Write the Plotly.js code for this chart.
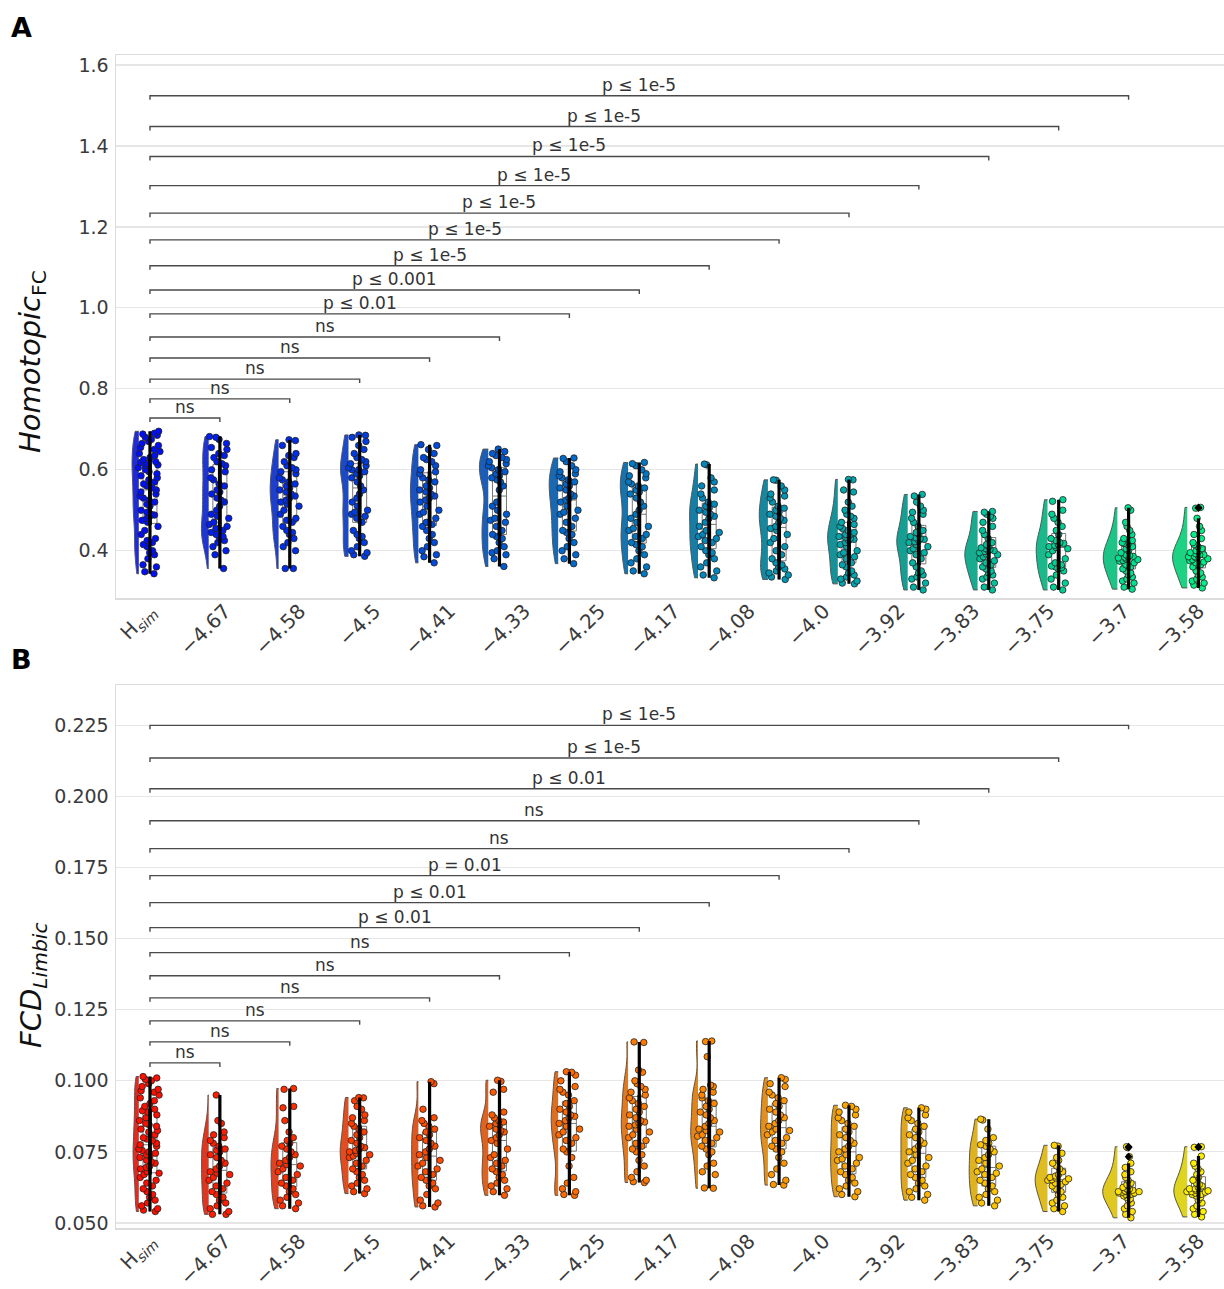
<!DOCTYPE html>
<html><head><meta charset="utf-8">
<script src="https://cdn.plot.ly/plotly-3.0.1.min.js"></script>
<style>body{margin:0;background:#fff}#chart{width:1224px;height:1289px}</style>
</head><body><div id="chart"></div>
<script>
// x tick labels (15 labels spread over the 16 groups, as in the original figure)
const tickLabels = ['H<sub><i>sim</i></sub>','\u22124.67','\u22124.58','\u22124.5','\u22124.41','\u22124.33','\u22124.25','\u22124.17','\u22124.08','\u22124.0','\u22123.92','\u22123.83','\u22123.75','\u22123.7','\u22123.58'];

// Panel A: Homotopic FC, one list per group (left to right)
const homotopicFC = [
 [0.695,0.69,0.688,0.685,0.68,0.675,0.67,0.665,0.66,0.655,0.65,0.645,0.64,0.635,0.63,0.625,0.62,0.618,0.615,0.612,0.61,0.605,0.6,0.595,0.59,0.585,0.58,0.575,0.57,0.565,0.56,0.555,0.55,0.545,0.54,0.535,0.53,0.525,0.52,0.515,0.51,0.5,0.495,0.49,0.488,0.485,0.48,0.475,0.47,0.46,0.45,0.44,0.43,0.425,0.42,0.415,0.41,0.4,0.395,0.39,0.38,0.365,0.36,0.348,0.343],
 [0.682,0.68,0.675,0.665,0.655,0.65,0.64,0.635,0.63,0.62,0.615,0.61,0.6,0.595,0.58,0.575,0.565,0.56,0.55,0.545,0.54,0.53,0.525,0.52,0.51,0.5,0.49,0.485,0.48,0.47,0.465,0.46,0.455,0.45,0.445,0.44,0.435,0.43,0.425,0.42,0.41,0.4,0.39,0.356],
 [0.674,0.672,0.66,0.64,0.635,0.63,0.62,0.61,0.605,0.6,0.595,0.59,0.58,0.575,0.57,0.565,0.56,0.555,0.55,0.545,0.54,0.535,0.53,0.525,0.52,0.515,0.51,0.5,0.49,0.48,0.475,0.47,0.46,0.45,0.445,0.44,0.43,0.42,0.41,0.4,0.356,0.356],
 [0.686,0.685,0.68,0.67,0.66,0.65,0.64,0.63,0.625,0.62,0.615,0.61,0.605,0.6,0.6,0.595,0.59,0.585,0.58,0.57,0.56,0.55,0.54,0.53,0.52,0.51,0.5,0.495,0.49,0.485,0.48,0.47,0.45,0.44,0.435,0.43,0.42,0.41,0.4,0.395,0.39,0.386],
 [0.662,0.66,0.65,0.64,0.63,0.625,0.62,0.61,0.6,0.595,0.59,0.58,0.575,0.57,0.56,0.555,0.55,0.545,0.54,0.535,0.53,0.525,0.52,0.51,0.5,0.495,0.49,0.48,0.47,0.465,0.46,0.45,0.44,0.43,0.42,0.41,0.4,0.39,0.385,0.37],
 [0.651,0.645,0.64,0.635,0.63,0.625,0.62,0.615,0.61,0.605,0.6,0.595,0.59,0.585,0.58,0.575,0.57,0.56,0.55,0.52,0.51,0.5,0.49,0.48,0.475,0.47,0.46,0.45,0.44,0.435,0.43,0.42,0.41,0.4,0.395,0.39,0.38,0.361],
 [0.629,0.628,0.62,0.61,0.6,0.595,0.59,0.585,0.58,0.575,0.57,0.565,0.56,0.555,0.55,0.54,0.535,0.53,0.525,0.52,0.51,0.5,0.495,0.49,0.48,0.47,0.46,0.45,0.445,0.44,0.43,0.42,0.41,0.4,0.39,0.38,0.368],
 [0.618,0.615,0.61,0.6,0.59,0.585,0.58,0.57,0.565,0.56,0.555,0.55,0.545,0.54,0.53,0.52,0.51,0.5,0.49,0.48,0.47,0.46,0.455,0.45,0.44,0.435,0.43,0.42,0.415,0.41,0.4,0.39,0.38,0.37,0.36,0.35,0.343],
 [0.614,0.612,0.58,0.57,0.56,0.55,0.54,0.53,0.52,0.515,0.51,0.505,0.5,0.495,0.49,0.485,0.48,0.47,0.46,0.45,0.445,0.44,0.435,0.43,0.425,0.42,0.41,0.4,0.395,0.39,0.38,0.37,0.36,0.35,0.34,0.333],
 [0.575,0.574,0.56,0.55,0.54,0.535,0.53,0.52,0.51,0.505,0.5,0.495,0.49,0.485,0.48,0.475,0.47,0.46,0.455,0.45,0.44,0.43,0.42,0.41,0.4,0.39,0.38,0.37,0.365,0.36,0.355,0.35,0.345,0.34,0.335,0.329],
 [0.576,0.575,0.55,0.545,0.52,0.51,0.5,0.49,0.485,0.48,0.47,0.465,0.46,0.455,0.45,0.445,0.44,0.437,0.435,0.433,0.43,0.428,0.425,0.42,0.415,0.41,0.4,0.395,0.39,0.385,0.38,0.37,0.365,0.36,0.35,0.345,0.34,0.335,0.33,0.325,0.32,0.318],
 [0.539,0.535,0.52,0.51,0.5,0.495,0.49,0.48,0.47,0.46,0.45,0.445,0.44,0.435,0.432,0.43,0.428,0.425,0.422,0.42,0.415,0.41,0.405,0.4,0.395,0.39,0.38,0.37,0.36,0.35,0.345,0.34,0.335,0.33,0.32,0.31,0.303],
 [0.497,0.495,0.49,0.485,0.48,0.47,0.46,0.45,0.44,0.43,0.42,0.415,0.41,0.407,0.405,0.403,0.4,0.4,0.398,0.395,0.392,0.39,0.385,0.38,0.375,0.37,0.365,0.36,0.355,0.35,0.345,0.34,0.335,0.33,0.32,0.31,0.303],
 [0.526,0.522,0.5,0.49,0.48,0.47,0.46,0.45,0.44,0.43,0.425,0.42,0.418,0.415,0.413,0.41,0.408,0.405,0.4,0.39,0.38,0.37,0.365,0.362,0.36,0.358,0.355,0.35,0.34,0.33,0.32,0.31,0.303],
 [0.506,0.5,0.47,0.46,0.45,0.44,0.43,0.425,0.42,0.418,0.415,0.41,0.405,0.4,0.395,0.39,0.388,0.386,0.385,0.384,0.382,0.38,0.378,0.376,0.374,0.37,0.365,0.36,0.355,0.35,0.345,0.34,0.335,0.33,0.325,0.32,0.31,0.305],
 [0.507,0.505,0.48,0.46,0.45,0.44,0.43,0.42,0.415,0.41,0.405,0.4,0.398,0.395,0.393,0.39,0.39,0.388,0.386,0.385,0.383,0.38,0.378,0.375,0.372,0.37,0.365,0.36,0.35,0.345,0.34,0.335,0.33,0.325,0.32,0.315,0.308]
];

// Panel B: FCD Limbic, one list per group (left to right)
const fcdLimbic = [
 [0.1015,0.101,0.1005,0.1,0.099,0.098,0.097,0.0965,0.096,0.095,0.094,0.093,0.092,0.091,0.09,0.0895,0.089,0.088,0.087,0.086,0.085,0.0845,0.084,0.083,0.0825,0.082,0.081,0.08,0.0795,0.079,0.078,0.0775,0.077,0.076,0.0755,0.075,0.0745,0.074,0.0735,0.073,0.072,0.0715,0.071,0.07,0.0695,0.069,0.068,0.0675,0.067,0.066,0.065,0.064,0.063,0.062,0.061,0.06,0.059,0.058,0.057,0.056,0.055,0.0545,0.054],
 [0.095,0.086,0.085,0.082,0.081,0.08,0.079,0.078,0.077,0.076,0.0755,0.075,0.074,0.073,0.072,0.071,0.07,0.069,0.068,0.0675,0.067,0.066,0.065,0.064,0.063,0.062,0.061,0.06,0.059,0.058,0.057,0.056,0.055,0.054,0.053,0.053],
 [0.0973,0.097,0.091,0.0905,0.086,0.082,0.08,0.079,0.078,0.077,0.076,0.075,0.074,0.073,0.072,0.071,0.0705,0.07,0.069,0.068,0.067,0.066,0.065,0.064,0.063,0.062,0.061,0.06,0.059,0.058,0.057,0.056,0.055],
 [0.0941,0.094,0.093,0.091,0.09,0.088,0.087,0.086,0.085,0.084,0.083,0.082,0.081,0.08,0.079,0.078,0.077,0.0765,0.076,0.0755,0.075,0.0745,0.074,0.0735,0.073,0.072,0.071,0.07,0.069,0.068,0.067,0.066,0.065,0.064,0.063,0.062,0.061,0.0603],
 [0.0997,0.099,0.09,0.087,0.086,0.085,0.084,0.083,0.082,0.081,0.08,0.079,0.078,0.077,0.076,0.075,0.074,0.073,0.072,0.071,0.07,0.069,0.068,0.067,0.066,0.065,0.064,0.063,0.062,0.06,0.058,0.057,0.056,0.0556],
 [0.1002,0.0998,0.097,0.096,0.089,0.088,0.087,0.086,0.0855,0.085,0.0845,0.084,0.083,0.0825,0.082,0.081,0.08,0.079,0.078,0.076,0.074,0.073,0.072,0.071,0.07,0.069,0.068,0.067,0.066,0.065,0.064,0.063,0.062,0.061,0.0597],
 [0.1032,0.103,0.102,0.1,0.098,0.097,0.096,0.095,0.093,0.092,0.091,0.09,0.089,0.088,0.0875,0.087,0.086,0.085,0.084,0.083,0.082,0.081,0.08,0.079,0.078,0.076,0.075,0.073,0.07,0.066,0.064,0.062,0.061,0.06,0.0597],
 [0.1137,0.1135,0.1038,0.103,0.1,0.099,0.098,0.097,0.096,0.095,0.094,0.093,0.092,0.091,0.09,0.089,0.088,0.087,0.086,0.0855,0.085,0.0845,0.084,0.083,0.082,0.081,0.08,0.079,0.078,0.077,0.076,0.075,0.074,0.072,0.07,0.068,0.066,0.065,0.0645,0.0642],
 [0.114,0.1138,0.1085,0.0985,0.098,0.097,0.096,0.095,0.094,0.093,0.092,0.091,0.09,0.089,0.088,0.087,0.086,0.085,0.084,0.083,0.0825,0.082,0.081,0.0805,0.08,0.079,0.078,0.077,0.076,0.075,0.074,0.071,0.07,0.068,0.067,0.0623,0.0622],
 [0.1011,0.1005,0.099,0.098,0.096,0.095,0.094,0.093,0.092,0.091,0.09,0.089,0.088,0.087,0.086,0.085,0.084,0.083,0.0825,0.082,0.081,0.08,0.079,0.078,0.077,0.076,0.075,0.073,0.071,0.069,0.067,0.065,0.0635,0.0633],
 [0.0914,0.091,0.09,0.089,0.088,0.087,0.086,0.085,0.084,0.083,0.082,0.081,0.08,0.079,0.078,0.077,0.076,0.075,0.074,0.073,0.0725,0.072,0.071,0.07,0.069,0.068,0.067,0.066,0.065,0.064,0.063,0.062,0.061,0.06,0.0592],
 [0.0905,0.09,0.089,0.088,0.087,0.086,0.085,0.084,0.083,0.082,0.081,0.08,0.079,0.078,0.077,0.076,0.075,0.074,0.073,0.072,0.071,0.07,0.069,0.068,0.067,0.066,0.065,0.064,0.063,0.062,0.061,0.06,0.059,0.058],
 [0.0865,0.0862,0.083,0.08,0.079,0.078,0.0775,0.077,0.076,0.075,0.074,0.073,0.072,0.071,0.07,0.069,0.068,0.0675,0.067,0.066,0.065,0.064,0.063,0.062,0.061,0.06,0.059,0.058,0.057,0.056],
 [0.0773,0.077,0.0745,0.073,0.072,0.071,0.07,0.069,0.068,0.067,0.0665,0.066,0.0658,0.0655,0.0652,0.065,0.0645,0.064,0.0635,0.063,0.062,0.061,0.06,0.059,0.058,0.057,0.056,0.055,0.054],
 [0.0768,0.0765,0.0733,0.071,0.0695,0.068,0.067,0.066,0.065,0.064,0.0635,0.063,0.0625,0.062,0.062,0.0615,0.0615,0.0612,0.061,0.061,0.061,0.0608,0.0605,0.0605,0.06,0.06,0.0595,0.059,0.0585,0.058,0.057,0.056,0.055,0.054,0.053,0.0518],
 [0.0768,0.0766,0.0735,0.071,0.07,0.069,0.068,0.067,0.066,0.065,0.064,0.0635,0.063,0.0625,0.062,0.062,0.0615,0.0613,0.061,0.061,0.0608,0.0605,0.06,0.06,0.0595,0.059,0.058,0.057,0.056,0.055,0.054,0.053,0.0521]
];

// significance brackets: group 0 vs group k (k = 1..14), bracket heights and labels
const bracketLevelsA = [0.728,0.775,0.824,0.876,0.928,0.985,1.044,1.104,1.168,1.234,1.302,1.374,1.448,1.524];
const bracketTextA = ['ns','ns','ns','ns','ns','p \u2264 0.01','p \u2264 0.001','p \u2264 1e-5','p \u2264 1e-5','p \u2264 1e-5','p \u2264 1e-5','p \u2264 1e-5','p \u2264 1e-5','p \u2264 1e-5'];
const bracketLevelsB = [0.1063,0.1137,0.1211,0.1292,0.1370,0.1451,0.1539,0.1627,0.1722,0.1817,0.1915,0.2028,0.2136,0.2251];
const bracketTextB = ['ns','ns','ns','ns','ns','ns','p \u2264 0.01','p \u2264 0.01','p = 0.01','ns','ns','p \u2264 0.01','p \u2264 1e-5','p \u2264 1e-5'];

// ---- styling helpers ----
const winter = t => [0, 255*t, 255*(1-0.5*t)];
const autumn = t => [255, 255*t, 0];
function desat(c, p){ // seaborn-like desaturation in HLS space
  const r=c[0]/255,g=c[1]/255,b=c[2]/255;
  const l=(Math.max(r,g,b)+Math.min(r,g,b))/2;
  return [r,g,b].map(v => 255*(l+(v-l)*p));
}
const css = c => 'rgb(' + c.map(v => Math.round(v)).join(',') + ')';
const FONT = 'DejaVu Sans, sans-serif';

const violins = [], greyBoxes = [], pts = [], blackLines = [], brackets = [], annos = [];

function panel(groups, xa, ya, cmap, sg, bw, levels, texts, tickDrop){
  const n = groups.length;
  groups.forEach((vals, i) => {
    const pc = cmap((i+1)/(n+1)), vc = desat(pc, 0.75);
    // no explicit width, so the shared scalegroup sizes the violins relative to each other
    violins.push({type:'violin', x0:i-0.16, y:vals, xaxis:xa, yaxis:ya, side:'negative',
      scalegroup:sg, scalemode:'width', spanmode:'hard', bandwidth:bw, fillcolor:css(vc),
      line:{color:'#555', width:1}, points:false, box:{visible:false}, meanline:{visible:false}, hoverinfo:'skip'});
    greyBoxes.push({type:'box', x0:i, y:vals, xaxis:xa, yaxis:ya, width:0.2, whiskerwidth:0,
      line:{color:'#777', width:1}, fillcolor:'rgba(0,0,0,0)', boxpoints:'outliers', marker:{opacity:0}, hoverinfo:'skip'});
    pts.push({type:'box', x0:i, y:vals, xaxis:xa, yaxis:ya, width:0.34, boxpoints:'all', jitter:1, pointpos:0,
      line:{color:'rgba(0,0,0,0)', width:0}, fillcolor:'rgba(0,0,0,0)',
      marker:{color:css(pc), size:6.5, line:{color:'#222', width:0.8}}, hoverinfo:'skip'});
    blackLines.push({type:'box', x0:i, y:vals, xaxis:xa, yaxis:ya, width:0.01, whiskerwidth:0,
      line:{color:'#000', width:3.2}, fillcolor:'#000', boxpoints:'outliers', jitter:0, pointpos:0,
      marker:{symbol:'diamond', color:'#000', size:6, line:{width:0}}, hoverinfo:'skip'});
  });
  levels.forEach((lv, j) => {
    const k = j + 1;
    brackets.push({type:'scatter', mode:'lines', x:[0,0,k,k], y:[lv-tickDrop, lv, lv, lv-tickDrop],
      xaxis:xa, yaxis:ya, line:{color:'#4a4a4a', width:1.4}, hoverinfo:'skip'});
    annos.push({xref:xa, yref:ya, x:k/2, y:lv, text:texts[j], showarrow:false, yanchor:'bottom', xanchor:'center',
      yshift:-1, font:{family:FONT, size:17, color:'#333'}});
  });
}
panel(homotopicFC, 'x', 'y', winter, 'A', 0.03, bracketLevelsA, bracketTextA, 0.0099);
panel(fcdLimbic, 'x2', 'y2', autumn, 'B', 0.004, bracketLevelsB, bracketTextB, 0.0014);

const nGroups = homotopicFC.length;
const tickPos = tickLabels.map((_, k) => k*(nGroups-1)/(tickLabels.length-1));

const W = 1224, H = 1289, L = 116;
const px = x => (x - L)/(W - L);
const py = y => (H - y)/H;

annos.push({xref:'paper', yref:'paper', x:px(32), y:py(362), text:'<i>Homotopic</i><sub>FC</sub>', textangle:-90,
  showarrow:false, xanchor:'center', yanchor:'middle', font:{family:FONT, size:29, color:'#111'}});
annos.push({xref:'paper', yref:'paper', x:px(33), y:py(985), text:'<i>FCD</i><sub><i>Limbic</i></sub>', textangle:-90,
  showarrow:false, xanchor:'center', yanchor:'middle', font:{family:FONT, size:29, color:'#111'}});
annos.push({xref:'paper', yref:'paper', x:px(21), y:py(27), text:'<b>A</b>', showarrow:false, xanchor:'center', yanchor:'middle',
  font:{family:FONT, size:27, color:'#000'}});
annos.push({xref:'paper', yref:'paper', x:px(21), y:py(660), text:'<b>B</b>', showarrow:false, xanchor:'center', yanchor:'middle',
  font:{family:FONT, size:27, color:'#000'}});

const xCommon = {type:'linear', range:[-0.486, 15.365], tickvals:tickPos, ticktext:tickLabels, tickangle:-45,
  showgrid:false, zeroline:false, showline:true, mirror:true, linecolor:'#dcdcdc', linewidth:1.5,
  ticks:'', ticklabelstandoff:-8, automargin:false, tickfont:{family:FONT, size:20, color:'#3a3a3a'}};
const yCommon = {showgrid:true, gridcolor:'#e6e6e6', gridwidth:1.3, zeroline:false, showline:true, mirror:true,
  linecolor:'#dcdcdc', linewidth:1.5, ticks:'', ticklabelstandoff:2, automargin:false,
  tickfont:{family:FONT, size:19, color:'#3a3a3a'}};

const layout = {
  width:W, height:H, margin:{l:L, r:0, t:0, b:0}, paper_bgcolor:'#fff', plot_bgcolor:'#fff',
  showlegend:false, violinmode:'overlay', violingap:0.4, boxmode:'overlay', font:{family:FONT},
  xaxis:Object.assign({}, xCommon, {anchor:'y', domain:[0,1]}),
  yaxis:Object.assign({}, yCommon, {anchor:'x', domain:[py(598), py(55)], range:[0.2831, 1.6247], dtick:0.2, tickformat:'.1f'}),
  xaxis2:Object.assign({}, xCommon, {anchor:'y2', domain:[0,1]}),
  yaxis2:Object.assign({}, yCommon, {anchor:'x2', domain:[py(1228), py(685)], range:[0.0482, 0.2393], tick0:0.05, dtick:0.025, tickformat:'.3f'}),
  annotations:annos
};

Plotly.newPlot('chart', [].concat(violins, greyBoxes, pts, blackLines, brackets), layout, {staticPlot:true});
</script></body></html>
